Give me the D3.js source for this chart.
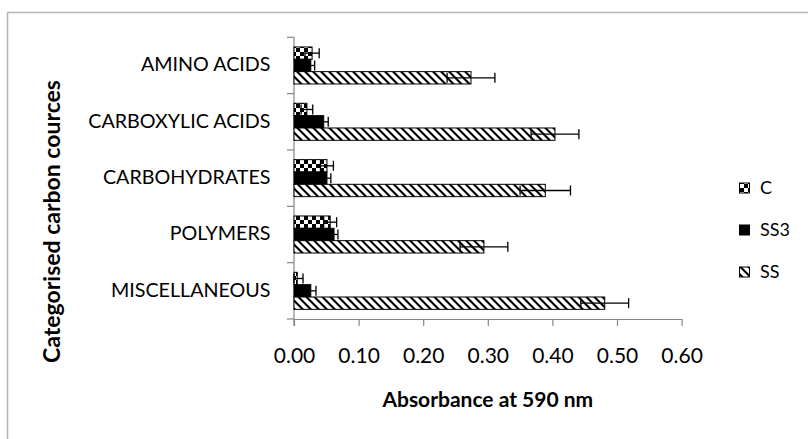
<!DOCTYPE html>
<html>
<head>
<meta charset="utf-8">
<script src="https://cdn.jsdelivr.net/npm/d3@7"></script>
<style>
  html, body { margin: 0; padding: 0; background: #fff; }
  svg { display: block; }
  text { font-family: Lato, "Open Sans", sans-serif; fill: #000; }
</style>
</head>
<body>
<svg id="chart" width="808" height="439"></svg>
<script>
// Categorised carbon sources, absorbance at 590 nm
const categories = ["AMINO ACIDS", "CARBOXYLIC ACIDS", "CARBOHYDRATES", "POLYMERS", "MISCELLANEOUS"];
const seriesNames = ["C", "SS3", "SS"];

const valuesC   = [0.028, 0.020, 0.051, 0.056, 0.005];
const errorsC   = [0.011, 0.009, 0.010, 0.010, 0.009];
const valuesSS3 = [0.026, 0.046, 0.051, 0.062, 0.026];
const errorsSS3 = [0.006, 0.007, 0.006, 0.006, 0.008];
const valuesSS  = [0.274, 0.404, 0.389, 0.294, 0.481];
const errorsSS  = [0.037, 0.037, 0.039, 0.037, 0.037];

const xTicks = [0, 0.1, 0.2, 0.3, 0.4, 0.5, 0.6];

const seriesValues = { C: valuesC, SS3: valuesSS3, SS: valuesSS };
const seriesErrors = { C: errorsC, SS3: errorsSS3, SS: errorsSS };
const seriesFill = { C: "url(#checker)", SS3: "#000", SS: "url(#diag)" };

const svg = d3.select("#chart");

// fill patterns
const defs = svg.append("defs");
const checker = defs.append("pattern").attr("id", "checker")
  .attr("patternUnits", "userSpaceOnUse").attr("width", 8).attr("height", 8);
checker.append("rect").attr("width", 8).attr("height", 8).attr("fill", "#fff");
checker.append("rect").attr("width", 4).attr("height", 4).attr("fill", "#000");
checker.append("rect").attr("x", 4).attr("y", 4).attr("width", 4).attr("height", 4).attr("fill", "#000");

const diag = defs.append("pattern").attr("id", "diag")
  .attr("patternUnits", "userSpaceOnUse").attr("width", 8).attr("height", 8);
diag.append("rect").attr("width", 8).attr("height", 8).attr("fill", "#fff");
diag.append("path").attr("d", "M0,0 L3,0 L8,5 L8,8 Z M0,5 L0,8 L3,8 Z").attr("fill", "#000");

// outer chart frame
svg.append("rect")
  .attr("x", 7.5).attr("y", 12.5).attr("width", 900).attr("height", 500)
  .attr("fill", "none").attr("stroke", "#b4b4b4").attr("stroke-width", 1.5);

const plotLeft = 294, plotRight = 681.6, plotTop = 37.3, plotBottom = 319;

const x = d3.scaleLinear().domain([0, 0.6]).range([plotLeft, plotRight]);
const y = d3.scaleBand().domain(categories).range([plotTop, plotBottom])
  .paddingInner(0.343).paddingOuter(0.1715);
const ySub = d3.scaleBand().domain(seriesNames).range([0, y.bandwidth()]);

const axisColor = "#868686";

// x axis
const xAxis = svg.append("g").attr("transform", `translate(0,${plotBottom})`)
  .call(d3.axisBottom(x).tickValues(xTicks).tickFormat(d3.format(".2f")).tickSize(7).tickSizeOuter(0));
xAxis.select(".domain").attr("stroke", axisColor).attr("stroke-width", 1.2);
xAxis.selectAll(".tick line").attr("stroke", axisColor).attr("stroke-width", 1.2);
xAxis.selectAll(".tick text").attr("font-size", 21).attr("dy", 0).attr("y", 44)
  .attr("font-family", "Lato, sans-serif").attr("fill", "#000");

// y axis: tick marks on category boundaries
const step = y.step();
const boundaries = d3.range(categories.length + 1).map(i => plotTop + i * step);
svg.append("line").attr("x1", plotLeft).attr("x2", plotLeft)
  .attr("y1", plotTop).attr("y2", plotBottom + 7)
  .attr("stroke", axisColor).attr("stroke-width", 1.2);
svg.selectAll("line.ytick").data(boundaries).join("line").attr("class", "ytick")
  .attr("x1", plotLeft - 7).attr("x2", plotLeft)
  .attr("y1", d => d).attr("y2", d => d)
  .attr("stroke", axisColor).attr("stroke-width", 1.2);

svg.selectAll("text.cat").data(categories).join("text").attr("class", "cat")
  .attr("x", 270.5).attr("y", d => y(d) + y.bandwidth() / 2 + 1)
  .attr("text-anchor", "end").attr("dominant-baseline", "middle")
  .attr("font-size", 19.7).text(d => d);

// bars and error bars
const rows = [];
categories.forEach((c, i) => {
  seriesNames.forEach(s => {
    rows.push({ cat: c, series: s, value: seriesValues[s][i], err: seriesErrors[s][i] });
  });
});

const barG = svg.append("g");
barG.selectAll("rect").data(rows).join("rect")
  .attr("x", x(0))
  .attr("y", d => y(d.cat) + ySub(d.series))
  .attr("width", d => x(d.value) - x(0))
  .attr("height", ySub.bandwidth())
  .attr("fill", d => seriesFill[d.series])
  .attr("stroke", "#000").attr("stroke-width", 1);

const errG = svg.append("g").attr("stroke", "#000").attr("stroke-width", 1.3).attr("fill", "none");
rows.forEach(d => {
  const cy = y(d.cat) + ySub(d.series) + ySub.bandwidth() / 2;
  const lo = x(Math.max(0, d.value - d.err)), hi = x(d.value + d.err);
  const capH = 5;
  errG.append("line").attr("x1", lo).attr("x2", hi).attr("y1", cy).attr("y2", cy);
  errG.append("line").attr("x1", lo).attr("x2", lo).attr("y1", cy - capH).attr("y2", cy + capH);
  errG.append("line").attr("x1", hi).attr("x2", hi).attr("y1", cy - capH).attr("y2", cy + capH);
});

// axis titles
svg.append("text")
  .attr("x", (plotLeft + plotRight) / 2).attr("y", 407)
  .attr("text-anchor", "middle")
  .attr("font-size", 21).attr("font-weight", "bold").text("Absorbance at 590 nm");

svg.append("text")
  .attr("transform", "translate(54,221.5) rotate(-90)")
  .attr("text-anchor", "middle").attr("dominant-baseline", "middle")
  .attr("font-size", 23).attr("font-weight", "bold").text("Categorised carbon cources");

// legend
const legendY = { C: 188, SS3: 230, SS: 272 };
const legend = svg.append("g");
seriesNames.forEach(s => {
  legend.append("rect").attr("x", 739.5).attr("y", legendY[s] - 5).attr("width", 10).attr("height", 10)
    .attr("fill", seriesFill[s]).attr("stroke", "#000").attr("stroke-width", 1);
  legend.append("text").attr("x", 760).attr("y", legendY[s] + 1)
    .attr("dominant-baseline", "middle").attr("font-size", 18).text(s);
});
</script>
</body>
</html>
